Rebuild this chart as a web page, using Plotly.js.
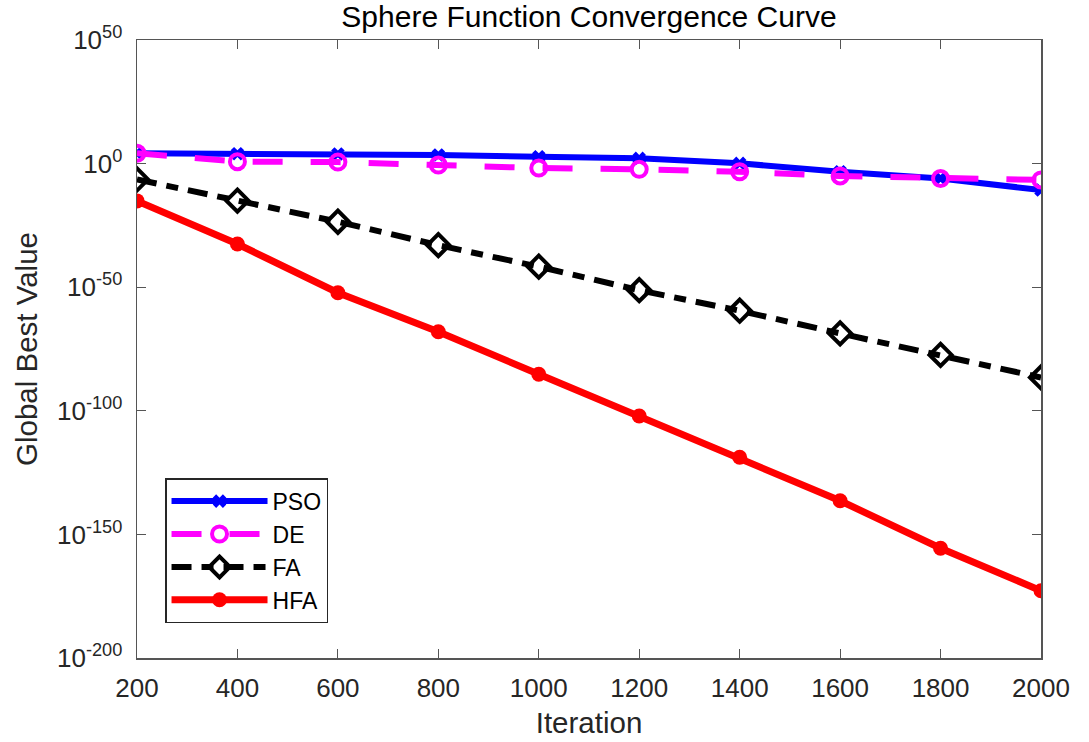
<!DOCTYPE html>
<html>
<head>
<meta charset="utf-8">
<script src="https://cdn.plot.ly/plotly-3.0.1.min.js"></script>
<style>html,body{margin:0;padding:0;background:#fff;}#chart{width:1089px;height:742px;}</style>
</head>
<body>
<div id="chart"></div>
<script>
const iterations = [200, 400, 600, 800, 1000, 1200, 1400, 1600, 1800, 2000];
const psoValues = [1.6e4, 1e4, 8e3, 3e3, 6e2, 1.3e2, 1.3e0, 5e-4, 1e-6, 2e-11];
const deValues  = [1.6e4, 6e0, 4e0, 2.5e-1, 1.6e-2, 5e-3, 5e-4, 1e-5, 1e-6, 2.5e-7];
const faValues  = [4e-7, 1e-15, 3e-24, 1e-33, 2e-42, 6e-52, 3e-60, 2e-69, 4e-78, 3e-87];
const hfaValues = [8e-16, 3e-33, 6e-53, 1e-68, 6e-86, 8e-103, 1.6e-119, 4e-137, 2.5e-156, 1.6e-173];
const seriesNames = ['PSO', 'DE', 'FA', 'HFA'];
const yTickVals = [1e-200, 1e-150, 1e-100, 1e-50, 1e0, 1e50];
const yTickText = ['10<sup>-200</sup>', '10<sup>-150</sup>', '10<sup>-100</sup>', '10<sup>-50</sup>', '10<sup>0</sup>', '10<sup>50</sup>'];
const xTickVals = [200, 400, 600, 800, 1000, 1200, 1400, 1600, 1800, 2000];

const font = 'Arial, "Liberation Sans", sans-serif';
const traces = [
  {x: iterations, y: psoValues, name: seriesNames[0], mode: 'lines+markers',
   line: {color: '#0000ff', width: 6},
   marker: {symbol: 'x', size: 12, color: '#0000ff', line: {width: 0}}},
  {x: iterations, y: deValues, name: seriesNames[1], mode: 'lines+markers',
   line: {color: '#ff00ff', width: 6, dash: '30px,28px'},
   marker: {symbol: 'circle-open', size: 15, color: '#ff00ff', line: {width: 4, color: '#ff00ff'}}},
  {x: iterations, y: faValues, name: seriesNames[2], mode: 'lines+markers',
   line: {color: '#000000', width: 6, dash: '20px,10px,12px,10px'},
   marker: {symbol: 'diamond-open', size: 17, color: '#000000', line: {width: 4, color: '#000000'}}},
  {x: iterations, y: hfaValues, name: seriesNames[3], mode: 'lines+markers',
   line: {color: '#ff0000', width: 7},
   marker: {symbol: 'circle', size: 15, color: '#ff0000'}}
];

const layout = {
  width: 1089, height: 742,
  margin: {l: 137, r: 48, t: 40, b: 84},
  paper_bgcolor: '#ffffff', plot_bgcolor: '#ffffff',
  font: {family: font, color: '#262626', size: 26},
  title: {text: 'Sphere Function Convergence Curve', xref: 'paper', x: 0.5, xanchor: 'center',
          yref: 'container', y: 0.992, yanchor: 'top',
          font: {family: font, size: 30, color: '#000000'}},
  xaxis: {
    range: [200, 2000], tickvals: xTickVals, ticks: 'inside', ticklen: 9, tickwidth: 1, tickcolor: '#555',
    showline: true, linecolor: '#555', linewidth: 1.5, mirror: 'ticks', showgrid: false, zeroline: false,
    tickfont: {family: font, size: 26, color: '#262626'}, ticklabelstandoff: 6,
    title: {text: 'Iteration', font: {family: font, size: 29.5, color: '#262626'}, standoff: 10}
  },
  yaxis: {
    type: 'log', range: [-200, 50], tickvals: yTickVals, ticktext: yTickText,
    ticks: 'inside', ticklen: 9, tickwidth: 1, tickcolor: '#555',
    showline: true, linecolor: '#555', linewidth: 1.5, mirror: 'ticks', showgrid: false, zeroline: false,
    tickfont: {family: font, size: 26, color: '#262626'}, ticklabelstandoff: 8,
    title: {text: 'Global Best Value', font: {family: font, size: 29.5, color: '#262626'}, standoff: 10}
  },
  legend: {
    x: 0.031, y: 0.291, xanchor: 'left', yanchor: 'top',
    bgcolor: '#ffffff', bordercolor: '#262626', borderwidth: 1.5,
    font: {family: font, size: 23, color: '#000000'},
    tracegroupgap: 0, itemwidth: 96
  },
  showlegend: true
};

Plotly.newPlot('chart', traces, layout, {staticPlot: true, displayModeBar: false});
</script>
</body>
</html>
